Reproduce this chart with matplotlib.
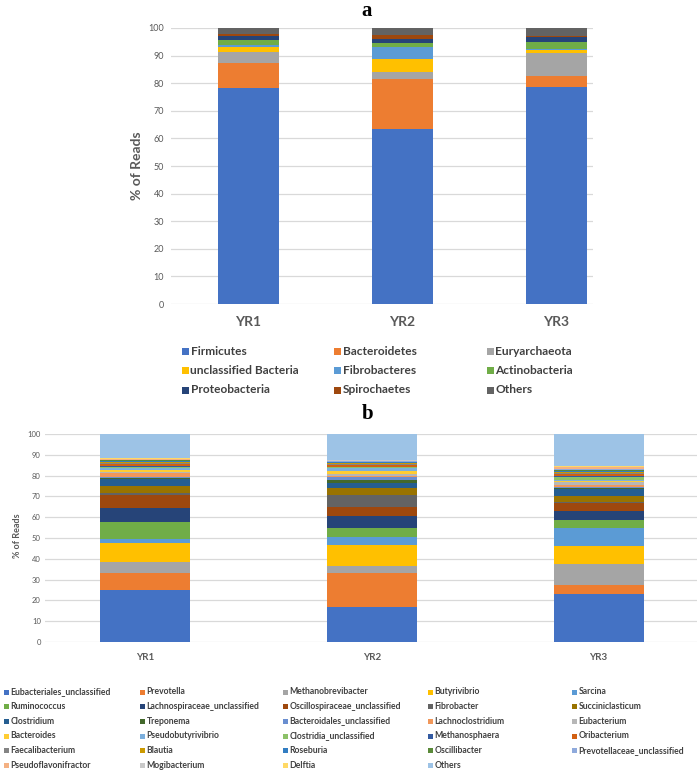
import matplotlib
matplotlib.use('Agg')
import matplotlib.pyplot as plt
from matplotlib.patches import Rectangle
import numpy as np

# ---------------- data ----------------
samples = ['YR1', 'YR2', 'YR3']

phyla = ['Firmicutes', 'Bacteroidetes', 'Euryarchaeota',
         'unclassified Bacteria', 'Fibrobacteres', 'Actinobacteria',
         'Proteobacteria', 'Spirochaetes', 'Others']
yr1_phylum = [78.1, 9.3, 3.8, 2.0, 0.5, 2.1, 1.2, 0.7, 2.3]
yr2_phylum = [63.3, 18.2, 2.7, 4.6, 4.2, 1.4, 1.5, 1.6, 2.5]
yr3_phylum = [78.7, 3.9, 8.5, 1.1, 0.2, 2.6, 1.6, 0.5, 2.9]

genera = ['Eubacteriales_unclassified', 'Prevotella', 'Methanobrevibacter',
          'Butyrivibrio', 'Sarcina', 'Ruminococcus',
          'Lachnospiraceae_unclassified', 'Oscillospiraceae_unclassified',
          'Fibrobacter', 'Succiniclasticum', 'Clostridium', 'Treponema',
          'Bacteroidales_unclassified', 'Lachnoclostridium', 'Eubacterium',
          'Bacteroides', 'Pseudobutyrivibrio', 'Clostridia_unclassified',
          'Methanosphaera', 'Oribacterium', 'Faecalibacterium', 'Blautia',
          'Roseburia', 'Oscillibacter', 'Prevotellaceae_unclassified',
          'Pseudoflavonifractor', 'Mogibacterium', 'Delftia', 'Others']
yr1_genus = [25.0, 8.0, 5.3, 9.4, 1.7, 8.1, 6.8, 6.4, 0.8, 3.7, 3.0, 0.5,
             0.8, 1.6, 0.5, 1.0, 1.2, 0.4, 0.4, 1.0, 0.5, 0.5, 0.3, 0.5,
             0.3, 0.3, 0.2, 0.1, 11.7]
yr2_genus = [17.0, 16.0, 3.5, 10.1, 4.0, 4.4, 5.6, 4.5, 5.6, 3.2, 2.4, 1.6,
             1.5, 0.6, 0.6, 1.5, 1.4, 0.5, 0.3, 0.7, 0.5, 0.5, 0.3, 0.4,
             0.3, 0.2, 0.2, 0.1, 12.5]
yr3_genus = [23.2, 4.0, 10.3, 8.7, 8.6, 4.0, 4.2, 3.8, 0.3, 2.9, 3.6, 0.3,
             0.4, 1.2, 1.5, 0.4, 0.5, 1.2, 0.6, 0.9, 0.5, 0.6, 0.4, 0.7,
             0.3, 0.8, 0.3, 0.4, 15.4]

y_ticks = list(range(0, 101, 10))

# ---------------- style ----------------
palette = ['#4472C4', '#ED7D31', '#A5A5A5', '#FFC000', '#5B9BD5', '#70AD47',
           '#264478', '#9E480E', '#636363', '#997300', '#255E91', '#43682B',
           '#698ED0', '#F1975A', '#B7B7B7', '#FFCD33', '#7CAFDD', '#8CC168',
           '#335AA1', '#D26012', '#848484', '#CC9A00', '#327DC2', '#5A8A39',
           '#8FAADC', '#F4B183', '#C9C9C9', '#FFD966', '#9DC3E6']
phylum_colors = palette[:8] + ['#636363']

plt.rcParams['font.family'] = ['Lato', 'DejaVu Sans']
W, H = 700, 778
fig = plt.figure(figsize=(W / 100, H / 100), dpi=100)


def rect(l, r, t, b):
    return [l / W, 1 - b / H, (r - l) / W, (b - t) / H]


def style_axis(ax, xlim, ysize, xsize):
    ax.set_xlim(*xlim)
    ax.set_ylim(0, 100)
    ax.set_yticks(y_ticks)
    ax.set_xticks(range(len(samples)))
    ax.set_xticklabels(samples, fontweight='bold', color='#595959', fontsize=xsize)
    ax.tick_params(axis='y', length=0, labelsize=ysize, labelcolor='#595959', pad=3)
    ax.tick_params(axis='x', length=0)
    ax.grid(axis='y', color='#D9D9D9', linewidth=0.9, zorder=0)
    ax.set_axisbelow(True)
    for s in ax.spines.values():
        s.set_visible(False)


def stack(ax, table, colors, width):
    x = np.arange(len(samples))
    data = np.array(table, dtype=float).T  # rows = categories
    bottom = np.zeros(len(samples))
    for vals, col in zip(data, colors):
        ax.bar(x, vals, width, bottom=bottom, color=col, linewidth=0, zorder=3)
        bottom += vals


def legend(names, colors, ncol, xs, ys, msize, fsize):
    for i, (n, c) in enumerate(zip(names, colors)):
        r, k = divmod(i, ncol)
        x, y = xs[k], ys[r]
        fig.patches.append(Rectangle((x / W, 1 - (y + msize / 2) / H), msize / W, msize / H,
                                     transform=fig.transFigure, color=c, linewidth=0))
        fig.text((x + msize + 1.5) / W, 1 - y / H, n, fontsize=fsize, color='#404040',
                 ha='left', va='center', fontweight='bold')


# ---------------- panel a ----------------
axA = fig.add_axes(rect(171, 593, 28, 304))
stack(axA, [yr1_phylum, yr2_phylum, yr3_phylum], phylum_colors, 0.40)
style_axis(axA, (-0.503, 2.237), 6.5, 10)
axA.tick_params(axis='x', pad=9)
axA.tick_params(axis='y', pad=5)
fig.text(137 / W, 1 - 166 / H, '% of Reads', rotation=90, ha='center', va='center',
         fontsize=10, fontweight='bold', color='#595959')
fig.text(367 / W, 1 - 11 / H, 'a', family='Liberation Serif', fontweight='bold',
         fontsize=15, ha='center', va='center')
legend(phyla, phylum_colors, 3, [182, 334, 487], [351, 370.5, 390], 7, 8.6)

# ---------------- panel b ----------------
axB = fig.add_axes(rect(45, 697, 434, 642))
stack(axB, [yr1_genus, yr2_genus, yr3_genus], palette, 0.397)
style_axis(axB, (-0.441, 2.434), 5.5, 7)
axB.tick_params(axis='x', pad=8)
fig.text(18 / W, 1 - 536 / H, '% of Reads', rotation=90, ha='center', va='center',
         fontsize=6.5, fontweight='bold', color='#595959')
fig.text(368 / W, 1 - 414 / H, 'b', family='Liberation Serif', fontweight='bold',
         fontsize=15, ha='center', va='center')
legend(genera, palette, 5, [4, 140, 283, 428, 572],
       [692, 706.5, 721, 736, 750.5, 765], 5, 6.2)

fig.savefig('out.png', dpi=100)
